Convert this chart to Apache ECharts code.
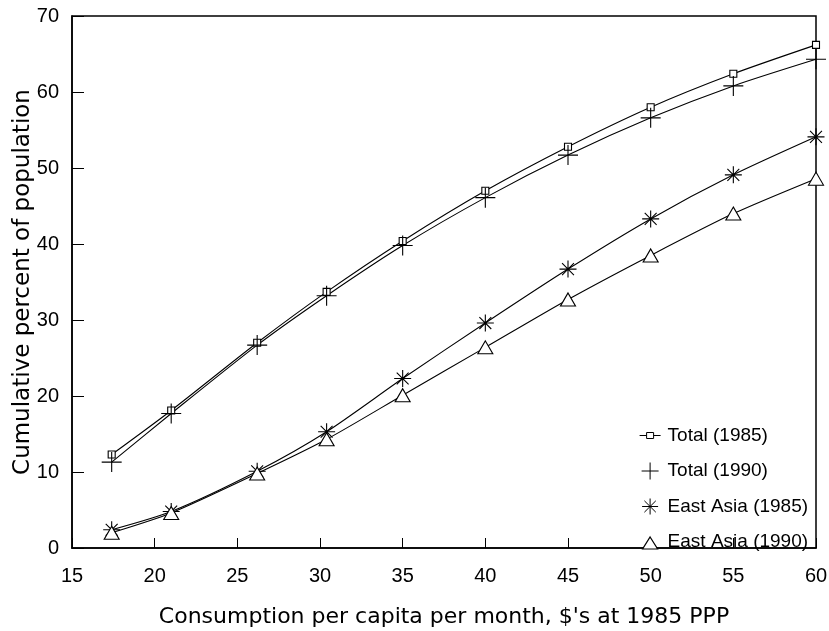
<!DOCTYPE html>
<html>
<head>
<meta charset="utf-8">
<script src="https://cdn.jsdelivr.net/npm/echarts@6/dist/echarts.min.js"></script>
<style>html,body{margin:0;padding:0;background:#fff}#c{width:829px;height:631px}</style>
</head>
<body>
<div id="c"></div>
<script>
const consumption = [17.4, 21, 26.2, 30.4, 35, 40, 45, 50, 55, 60];
const total1985 = [12.3, 18.1, 27.0, 33.7, 40.4, 47.0, 52.8, 58.0, 62.4, 66.2];
const total1990 = [11.3, 17.7, 26.7, 33.2, 39.8, 46.1, 51.7, 56.6, 60.8, 64.3];
const eastAsia1985 = [2.4, 4.8, 10.1, 15.3, 22.3, 29.6, 36.7, 43.3, 49.1, 54.1];
const eastAsia1990 = [2.0, 4.6, 9.8, 14.3, 20.1, 26.4, 32.7, 38.5, 44.0, 48.6];
const seriesNames = ['Total (1985)', 'Total (1990)', 'East Asia (1985)', 'East Asia (1990)'];

const PLUS = 'path://M0,10L20,10M10,0L10,20';
const STAR = 'path://M0,10L20,10M10,0L10,20M3,3L17,17M17,3L3,17';
// legend icons: zero-length corner segments pin the bounding box to 25x17
const BOX = 'M0,0L0,0M25,17L25,17';
const L_SQ = 'path://' + BOX + 'M2,8.5L9,8.5M16,8.5L23,8.5M9,5.5L16,5.5L16,11.5L9,11.5Z';
const L_PLUS = 'path://' + BOX + 'M4,8.5L21,8.5M12.5,0L12.5,17';
const L_STAR = 'path://' + BOX + 'M4.5,8.5L20.5,8.5M12.5,0.5L12.5,16.5M6.8,2.8L18.2,14.2M18.2,2.8L6.8,14.2';
const L_TRI = 'path://' + BOX + 'M12.5,3.5L20,15.5L5,15.5Z';

function pairs(ys) { return consumption.map((x, i) => [x, ys[i]]); }

function mk(name, ys, symbol, size, fill) {
  return {
    name: name, type: 'line', data: pairs(ys), smooth: 0.25,
    symbol: symbol, symbolSize: size, showSymbol: true,
    lineStyle: { color: '#000', width: 1.1 },
    itemStyle: { color: fill, borderColor: '#000', borderWidth: 1.1 },
    emphasis: { disabled: true }, z: 3
  };
}

const chart = echarts.init(document.getElementById('c'));
chart.setOption({
  animation: false,
  backgroundColor: '#fff',
  grid: { left: 72, right: 13, top: 16, bottom: 83, outerBoundsMode: 'none', containLabel: false, show: true, borderColor: '#000', borderWidth: 1.5, backgroundColor: 'transparent' },
  xAxis: {
    type: 'value', min: 15, max: 60, interval: 5,
    name: "Consumption per capita per month, $'s at 1985 PPP",
    nameLocation: 'middle', nameGap: 58, nameMoveOverlap: false,
    nameTextStyle: { fontFamily: 'DejaVu Sans', fontSize: 22, color: '#000' },
    axisLine: { show: true, lineStyle: { color: '#000', width: 1.5 } },
    axisTick: { show: true, inside: true, length: 10, lineStyle: { color: '#000', width: 1 } },
    axisLabel: { fontFamily: 'Liberation Sans', fontSize: 20, color: '#000', margin: 18 },
    splitLine: { show: false }
  },
  yAxis: {
    type: 'value', min: 0, max: 70, interval: 10,
    name: 'Cumulative percent of population',
    nameLocation: 'middle', nameGap: 37, nameRotate: 90, nameMoveOverlap: false,
    nameTextStyle: { fontFamily: 'DejaVu Sans', fontSize: 23, color: '#000' },
    axisLine: { show: true, lineStyle: { color: '#000', width: 1.5 } },
    axisTick: { show: true, inside: true, length: 12, lineStyle: { color: '#000', width: 1 } },
    axisLabel: { fontFamily: 'Liberation Sans', fontSize: 20, color: '#000', margin: 13 },
    splitLine: { show: false }
  },
  legend: {
    orient: 'vertical', left: 632, top: 421,
    itemWidth: 25, itemHeight: 17, itemGap: 16.5, itemTextGap: 6,
    textStyle: { fontFamily: 'Liberation Sans', fontSize: 19, color: '#000' },
    selectedMode: false,
    data: [
      { name: seriesNames[0], icon: L_SQ, itemStyle: { color: '#fff', borderColor: '#000', borderWidth: 1 } },
      { name: seriesNames[1], icon: L_PLUS, itemStyle: { color: '#000', borderColor: '#000', borderWidth: 1 } },
      { name: seriesNames[2], icon: L_STAR, itemStyle: { color: '#000', borderColor: '#000', borderWidth: 1 } },
      { name: seriesNames[3], icon: L_TRI, itemStyle: { color: '#fff', borderColor: '#000', borderWidth: 1.2 } }
    ]
  },
  series: [
    mk(seriesNames[0], total1985, 'rect', 7, '#fff'),
    mk(seriesNames[1], total1990, PLUS, 20, '#000'),
    mk(seriesNames[2], eastAsia1985, STAR, 17, '#000'),
    mk(seriesNames[3], eastAsia1990, 'triangle', [15, 13], '#fff')
  ]
});
</script>
</body>
</html>
